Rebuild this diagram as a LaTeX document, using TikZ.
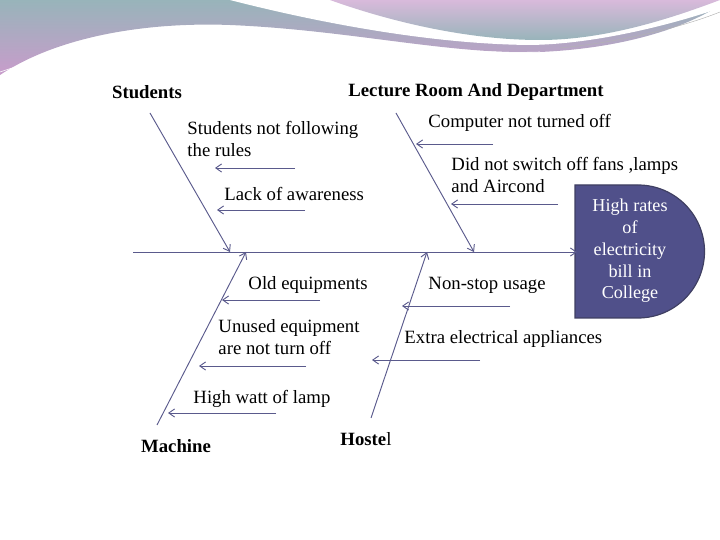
\documentclass[tikz,border=0pt]{standalone}
\usepackage{fontspec}
\setmainfont{Liberation Serif}
\usetikzlibrary{arrows.meta}
\begin{document}
\begin{tikzpicture}[x=0.03cm, y=-0.03cm, line width=0.8pt,
	bone/.style={draw=boneblue, -{Straight Barb[length=5pt,width=7pt]}},
	cause/.style={draw=boneblue, -{Straight Barb[length=5pt,width=7pt]}},
	txt/.style={anchor=west, inner sep=0pt, font=\fontsize{16}{18.7}\selectfont, align=left},
	cat/.style={inner sep=0pt, font=\fontsize{16}{18}\selectfont\bfseries}]
	\definecolor{boneblue}{HTML}{5A5A8C}
	\definecolor{headblue}{HTML}{50508A}
	\definecolor{tealbg}{HTML}{98B4BA}
	\definecolor{pinkbg}{HTML}{C89CCB}
	\useasboundingbox (0,0) rectangle (720,540);
	%%Hintergrund
	\shade[top color=tealbg, bottom color=pinkbg]
		(0,0) -- (0,75) .. controls (60,35) and (150,22) .. (230,25) .. controls (350,30) and (450,55) .. (540,52) .. controls (630,48) and (690,25) .. (720,5) -- (720,0) -- cycle;
	\fill[white] (230,0) .. controls (300,18) and (420,44) .. (530,45) .. controls (600,44) and (680,22) .. (720,8) -- (720,0) -- cycle;
	\shade[top color=pinkbg!70!white, bottom color=tealbg]
		(330,0) .. controls (380,18) and (460,40) .. (540,40) .. controls (610,40) and (680,15) .. (720,0) -- cycle;
	\draw[white, line width=0.5pt] (0,72) .. controls (80,45) and (160,35) .. (230,35) .. controls (350,38) and (450,55) .. (540,52);
	\draw[gray!60, line width=0.4pt] (720,12) .. controls (680,28) and (620,42) .. (560,48);
	%%Kopf
	\path[fill=headblue, draw=boneblue!70!black, line width=1pt] (575,185) -- (638,185) arc[start angle=-90, end angle=90, radius=66.5] -- (575,318) -- cycle;
	\node[text=white, align=center, font=\fontsize{15.5}{18.5}\selectfont] (effekt) at (630,251) {High rates\\of\\electricity\\bill in\\College};
	%%Hauptgraete
	\coordinate (spA) at (133,252);
	\coordinate (spB) at (577,252);
	\draw[bone] (spA) -- (spB);
	%%Graeten
	\node[cat] (students) at (147,92) {Students};
	\node[cat] (lecture) at (476,92) {Lecture Room And Department};
	\node[cat] (machine) at (176,446) {Machine};
	\node[cat] (hostel) at (366,439) {Hoste\textmd{l}};
	\coordinate (s1) at (150,113); \coordinate (s2) at (230,252);
	\coordinate (l1) at (396,113); \coordinate (l2) at (474,252);
	\coordinate (m1) at (157,425); \coordinate (m2) at (246,252);
	\coordinate (h1) at (371,418); \coordinate (h2) at (427,252);
	\draw[bone] (s1) -- (s2);
	\draw[bone] (l1) -- (l2);
	\draw[bone] (m1) -- (m2);
	\draw[bone] (h1) -- (h2);
	%%Ursachen
	\node[txt] (c1) at (187,139) {Students not following\\the rules};
	\node[txt] (c2) at (224,194) {Lack of awareness};
	\node[txt] (c3) at (428,123) {Computer not turned off};
	\node[txt] (c4) at (451,175) {Did not switch off fans ,lamps\\and Aircond};
	\node[txt] (c5) at (248,285) {Old equipments};
	\node[txt] (c6) at (218,337) {Unused equipment\\are not turn off};
	\node[txt] (c7) at (193,399) {High watt of lamp};
	\node[txt] (c8) at (428,285) {Non-stop usage};
	\node[txt] (c9) at (404,339) {Extra electrical appliances};
	\foreach \xa/\xb/\y in {295/215/168, 305/217/210, 493/416/144, 558/451/204, 320/222/300, 306/199/366, 276/168/413, 510/402/306, 480/372/360}
		\draw[cause] (\xa,\y) -- (\xb,\y);
\end{tikzpicture}
\end{document}
